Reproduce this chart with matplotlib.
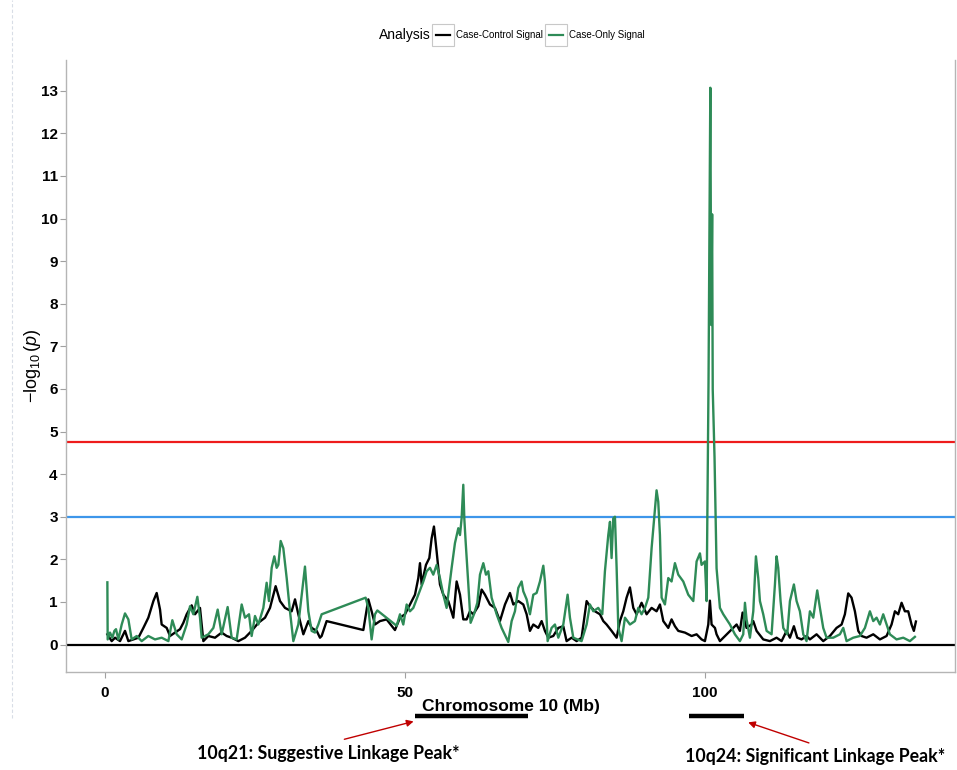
import matplotlib.pyplot as plt
from matplotlib.lines import Line2D
from matplotlib.patches import Rectangle
import matplotlib.transforms as mtransforms

plt.rcParams["font.family"] = ["Liberation Sans", "DejaVu Sans"]
plt.rcParams["mathtext.fontset"] = "custom"
plt.rcParams["mathtext.rm"] = "Liberation Sans"
plt.rcParams["mathtext.it"] = "Liberation Sans:italic"

# positions in Mb, -log10(p) values
cc_pos = [0.39, 1.11, 1.67, 2.5, 3.33, 3.89, 4.72, 5.56, 6.39, 7.22, 8.06, 8.61, 9.17, 9.44,
          10.28, 10.83, 11.67, 12.5, 13.06, 13.61, 14.44, 15.0, 15.83, 16.39, 17.22, 18.33,
          19.44, 20.28, 21.11, 22.22, 23.33, 24.44, 25.56, 26.67, 27.5, 28.44, 29.17, 30.0,
          31.11, 31.67, 32.22, 33.06, 33.89, 34.44, 35.28, 35.83, 36.11, 36.94, 43.06, 43.89,
          44.44, 45.0, 45.83, 46.94, 48.33, 49.17, 50.0, 50.83, 51.67, 52.22, 52.5, 52.78,
          53.5, 54.06, 54.44, 54.83, 55.28, 55.83, 56.39, 57.22, 58.06, 58.61, 59.17, 59.72,
          60.28, 60.83, 61.39, 62.22, 62.78, 63.33, 64.17, 65.0, 65.83, 66.67, 67.5, 68.06,
          68.89, 69.72, 70.28, 70.83, 71.39, 72.22, 72.78, 73.33, 73.89, 74.72, 75.56, 76.39,
          76.94, 77.78, 78.61, 79.44, 80.28, 80.83, 81.67, 82.5, 83.06, 83.61, 84.44, 85.28,
          85.83, 86.39, 86.94, 87.5, 88.06, 88.61, 89.44, 90.28, 91.11, 91.94, 92.5, 93.06,
          93.89, 94.44, 95.0, 95.56, 96.67, 97.78, 98.61, 99.44, 100.0, 100.56, 100.83, 101.11,
          101.67, 101.94, 102.5, 105.28, 105.83, 106.28, 106.94, 107.78, 108.06, 108.61, 109.72,
          110.83, 111.94, 112.78, 113.61, 114.17, 114.83, 115.39, 116.11, 116.94, 117.5, 118.61,
          119.72, 120.83, 121.94, 122.78, 123.33, 123.89, 124.44, 125.0, 125.56, 126.11, 126.94,
          128.06, 129.17, 130.28, 131.11, 131.67, 132.22, 132.78, 133.33, 133.89, 134.44,
          134.83, 135.17]
cc_val = [0.24, 0.08, 0.16, 0.08, 0.32, 0.08, 0.12, 0.16, 0.39, 0.63, 1.02, 1.21, 0.82, 0.47,
          0.39, 0.20, 0.28, 0.36, 0.51, 0.71, 0.92, 0.71, 0.86, 0.08, 0.20, 0.16,
          0.28, 0.20, 0.16, 0.08, 0.16, 0.32, 0.51, 0.63, 0.86, 1.37, 1.02, 0.86,
          0.78, 1.06, 0.71, 0.24, 0.55, 0.39, 0.32, 0.16, 0.20, 0.55, 0.34, 1.06,
          0.78, 0.47, 0.55, 0.59, 0.34, 0.63, 0.71, 0.94, 1.17, 1.56, 1.91, 1.41,
          1.87, 2.03, 2.49, 2.77, 2.18, 1.41, 1.17, 1.02, 0.63, 1.48, 1.17, 0.59,
          0.59, 0.78, 0.71, 0.90, 1.29, 1.17, 0.94, 0.86, 0.55, 0.94, 1.21, 0.94,
          1.02, 0.94, 0.71, 0.32, 0.47, 0.39, 0.55, 0.32, 0.16, 0.20, 0.39, 0.43,
          0.08, 0.16, 0.08, 0.16, 1.02, 0.90, 0.78, 0.71, 0.55, 0.47, 0.32, 0.16,
          0.55, 0.78, 1.10, 1.34, 0.86, 0.71, 0.98, 0.71, 0.86, 0.78, 0.94, 0.55,
          0.39, 0.59, 0.43, 0.32, 0.28, 0.20, 0.24, 0.12, 0.08, 0.47, 1.03, 0.47,
          0.39, 0.24, 0.08, 0.47, 0.32, 0.75, 0.39, 0.47, 0.55, 0.32, 0.12,
          0.08, 0.16, 0.08, 0.32, 0.16, 0.43, 0.16, 0.12, 0.20, 0.12, 0.24,
          0.08, 0.20, 0.39, 0.47, 0.71, 1.20, 1.10, 0.78, 0.32, 0.20, 0.16,
          0.24, 0.12, 0.20, 0.47, 0.78, 0.71, 0.98, 0.78, 0.78, 0.47,
          0.32, 0.54]

co_pos = [0.39, 0.44, 0.83, 1.22, 1.56, 1.83, 2.22, 2.78, 3.33, 3.89, 4.44, 5.28, 6.11, 7.22,
          8.33, 9.44, 10.56, 11.22, 11.94, 12.78, 13.61, 14.17, 14.72, 15.39, 15.83, 16.11,
          17.22, 18.06, 18.78, 19.44, 20.44, 21.11, 21.94, 22.78, 23.33, 24.0, 24.44, 25.0,
          25.56, 26.39, 26.94, 27.33, 27.78, 28.22, 28.61, 28.89, 29.28, 29.72, 30.28, 30.83,
          31.39, 32.22, 33.33, 33.89, 34.44, 35.0, 35.56, 36.11, 43.44, 43.89, 44.44, 45.0,
          45.39, 48.61, 49.17, 49.72, 50.28, 50.83, 51.39, 52.22, 53.06, 53.61, 54.17, 54.72,
          55.28, 55.83, 56.39, 56.94, 57.78, 58.33, 58.89, 59.17, 59.44, 59.72, 59.89, 60.11,
          60.56, 60.94, 61.5, 62.06, 62.5, 63.06, 63.5, 63.89, 64.44, 65.28, 66.11, 67.22,
          67.78, 68.33, 68.89, 69.44, 69.72, 70.28, 70.83, 71.39, 71.94, 72.5, 73.06, 73.33,
          73.78, 74.44, 75.0, 75.56, 76.39, 77.11, 77.5, 78.06, 79.44, 80.28, 80.83, 81.39,
          82.22, 82.89, 83.33, 83.89, 84.17, 84.44, 84.72, 85.0, 85.28, 85.56, 86.11, 86.67,
          87.5, 88.33, 88.89, 89.44, 90.0, 90.56, 91.11, 91.67, 91.94, 92.22, 92.5, 92.78,
          93.33, 93.89, 94.44, 95.0, 95.56, 96.39, 97.22, 98.06, 98.61, 99.17, 99.44, 100.0,
          100.28, 100.6, 100.75, 100.9, 101.05, 101.2, 101.3, 101.45, 101.6, 101.94, 102.5,
          103.06, 104.17, 105.0, 105.83, 106.39, 106.67, 106.94, 107.5, 108.06, 108.5, 108.89,
          109.17, 109.72, 110.28, 111.11, 111.67, 111.94, 112.22, 112.61, 113.06, 113.72,
          114.17, 114.83, 115.28, 115.83, 116.39, 116.94, 117.5, 118.06, 118.72, 119.17,
          119.72, 120.28, 121.39, 122.5, 123.06, 123.61, 124.72, 125.83, 126.67, 127.5,
          128.06, 128.61, 129.17, 129.72, 130.28, 130.83, 131.94, 133.06, 134.17, 135.0]
co_val = [1.46, 0.12, 0.28, 0.16, 0.32, 0.36, 0.12, 0.47, 0.73, 0.59, 0.12, 0.20, 0.08, 0.20,
          0.12, 0.16, 0.08, 0.57, 0.24, 0.12, 0.47, 0.90, 0.71, 1.12, 0.63, 0.16,
          0.24, 0.39, 0.82, 0.24, 0.88, 0.16, 0.12, 0.94, 0.63, 0.71, 0.20, 0.67,
          0.47, 0.86, 1.45, 1.02, 1.80, 2.07, 1.80, 1.87, 2.43, 2.26, 1.56, 0.78,
          0.08, 0.47, 1.83, 0.78, 0.32, 0.28, 0.47, 0.71, 1.10, 0.86, 0.12, 0.71,
          0.80, 0.44, 0.71, 0.47, 0.94, 0.78, 0.86, 1.17, 1.48, 1.72, 1.80, 1.64,
          1.87, 1.56, 1.17, 0.86, 1.80, 2.38, 2.73, 2.57, 2.96, 3.75, 2.96, 2.42,
          1.41, 0.51, 0.71, 0.98, 1.64, 1.91, 1.64, 1.72, 1.10, 0.71, 0.39, 0.06,
          0.55, 0.78, 1.33, 1.48, 1.25, 1.06, 0.71, 1.17, 1.21, 1.48, 1.85, 1.48,
          0.08, 0.39, 0.47, 0.16, 0.47, 1.17, 0.63, 0.16, 0.08, 0.47, 0.94, 0.78,
          0.86, 0.71, 1.72, 2.57, 2.88, 2.03, 2.96, 3.00, 1.80, 0.39, 0.08, 0.63,
          0.47, 0.55, 0.86, 0.71, 0.86, 1.10, 2.26, 3.19, 3.62, 3.35, 2.57, 1.10,
          0.94, 1.56, 1.48, 1.91, 1.64, 1.48, 1.17, 1.02, 1.95, 2.14, 1.87, 1.95,
          1.02, 6.18, 9.84, 13.07, 7.5, 10.1, 5.99, 5.17, 4.4, 1.79, 0.86,
          0.71, 0.47, 0.24, 0.08, 0.24, 0.98, 0.59, 0.16, 0.78, 2.07, 1.56,
          1.02, 0.71, 0.32, 0.24, 1.41, 2.07, 1.80, 1.02, 0.39, 0.24,
          1.02, 1.41, 1.02, 0.78, 0.24, 0.08, 0.78, 0.63, 1.27, 0.86,
          0.39, 0.16, 0.16, 0.24, 0.39, 0.08, 0.16, 0.20, 0.39, 0.78,
          0.55, 0.63, 0.47, 0.71, 0.47, 0.24, 0.12, 0.16, 0.08, 0.18]

thresholds = {"significant": 4.75, "suggestive": 3.0}
linkage_regions = [(51.7, 70.5), (97.3, 106.5)]
region_labels = ["10q21: Suggestive Linkage Peak*", "10q24: Significant Linkage Peak*"]
series_names = ["Case-Control Signal", "Case-Only Signal"]


def main():
    fig = plt.figure(figsize=(9.57, 7.7), dpi=100)
    ax = fig.add_axes([0.069, 0.127, 0.929, 0.795])

    colors = ["black", "#2e8b57"]
    ax.axhline(thresholds["significant"], color="#ee1c1c", lw=1.6, zorder=1)
    ax.axhline(thresholds["suggestive"], color="#3d96ea", lw=1.6, zorder=1)
    ax.axhline(0, color="black", lw=1.6, zorder=1)
    ax.plot(cc_pos, cc_val, color=colors[0], lw=1.7, zorder=2)
    ax.plot(co_pos, co_val, color=colors[1], lw=1.7, zorder=3)

    ax.set_xlim(-6.5, 141.7)
    ax.set_ylim(-0.65, 13.72)
    ax.set_xticks([0, 50, 100])
    ax.set_yticks(range(0, 14))
    for lab in ax.get_xticklabels() + ax.get_yticklabels():
        lab.set_fontweight("bold")
        lab.set_fontsize(11)
    ax.tick_params(colors="#a0a0a0", length=4, labelcolor="black")
    ax.tick_params(axis="y", pad=2)
    ax.tick_params(axis="x", pad=6)
    ax.spines["top"].set_visible(False)
    for side in ["left", "bottom", "right"]:
        ax.spines[side].set_color("#b5b5b5")
        ax.spines[side].set_linewidth(1.0)

    ax.set_ylabel(r"$-\log_{10}(p)$", fontsize=13, labelpad=-2)
    ax.set_xlabel("Chromosome 10 (Mb)", fontsize=12.5, fontweight="bold", labelpad=-1)

    # legend across the top, drawn by hand so the keys sit in little boxes
    fig.text(379 / 957, 0.955, "Analysis", fontsize=10, ha="left", va="center")
    for name, col, x0 in zip(series_names, colors, [432, 545]):
        fig.add_artist(Rectangle((x0 / 957, 0.955 - 11 / 770), 22 / 957, 22 / 770,
                                 transform=fig.transFigure, fill=False,
                                 edgecolor="#c8c8c8", lw=0.8))
        fig.add_artist(Line2D([(x0 + 4) / 957, (x0 + 18) / 957], [0.955, 0.955],
                              color=col, lw=1.6, transform=fig.transFigure))
        fig.text((x0 + 24) / 957, 0.955, name, fontsize=7, ha="left", va="center")

    # linkage regions below the x axis
    trans = mtransforms.blended_transform_factory(ax.transData, fig.transFigure)
    for start, end in linkage_regions:
        ax.plot([start, end], [0.070, 0.070], color="black", lw=3.2,
                transform=trans, clip_on=False, solid_capstyle="butt")

    arrow = dict(arrowstyle="-|>", color="#c00000", lw=1.0, mutation_scale=10)
    fig.add_artist(plt.Annotation("", xy=(0.435, 0.064), xytext=(0.357, 0.039),
                                  xycoords="figure fraction", arrowprops=arrow))
    fig.add_artist(plt.Annotation("", xy=(0.779, 0.063), xytext=(0.848, 0.034),
                                  xycoords="figure fraction", arrowprops=arrow))
    fig.text(0.206, 0.022, region_labels[0], fontsize=12.8, fontweight="bold",
             family="Lato", ha="left", va="center")
    fig.text(0.716, 0.017, region_labels[1], fontsize=12.8, fontweight="bold",
             family="Lato", ha="left", va="center")

    # faint dashed border on the left of the image
    fig.add_artist(Line2D([0.0125, 0.0125], [0.067, 1.0], color="#d8dde6", lw=0.8,
                          ls=(0, (3, 2)), transform=fig.transFigure))

    fig.savefig("out.png", dpi=100)


if __name__ == "__main__":
    main()
